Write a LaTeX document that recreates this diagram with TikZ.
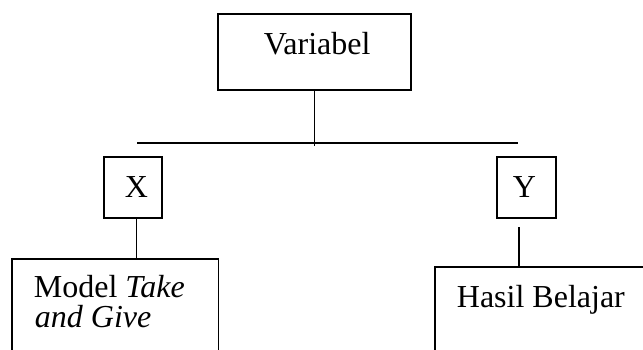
\documentclass[tikz,border=0pt]{standalone}
\usepackage{fontspec}
\setmainfont{Liberation Serif}
\begin{document}
\begin{tikzpicture}[x=1pt,y=-1pt,line width=1.8pt,
  box/.style={draw,rectangle,inner sep=0pt},
  txt/.style={inner sep=0pt,anchor=base west,font=\fontsize{32}{30}\selectfont}]
\useasboundingbox (0,0) rectangle (643,349);
\clip (0,0) rectangle (643,349);
% boxes
\node[box,minimum width=193pt,minimum height=76pt] (V) at (314.5,52) {};
\node[box,minimum width=58pt,minimum height=61pt] (X) at (133,187.5) {};
\node[box,minimum width=59pt,minimum height=61pt] (Y) at (526.5,187.5) {};
\node[box,minimum width=206.5pt,minimum height=141pt] (M) at (115.25,329.5) {};
\node[box,minimum width=265pt,minimum height=133pt] (H) at (567.5,333.5) {};
% texts
\node[txt] (tV) at (263,54) {Variabel};
\node[txt] (tX) at (124,197) {X};
\node[txt] (tY) at (512,197) {Y};
\node[txt] (tM) at (33,297) {Model \textit{Take}};
\node[txt] (tM2) at (34,327) {\textit{and Give}};
\node[txt] (tH) at (456,307.5) {Hasil Belajar};
% connectors
\coordinate (hl) at (137,142.7);
\coordinate (hr) at (518,142.7);
\coordinate (vj) at (V.south |- 0,146);
\draw (V.south) -- (vj);
\draw (hl) -- (hr);
\draw ([xshift=3.5pt]X.south) -- ([xshift=3.5pt]X.south |- M.north);
\coordinate (yt) at (519,227);
\draw (yt) -- (yt |- H.north);
\end{tikzpicture}
\end{document}
